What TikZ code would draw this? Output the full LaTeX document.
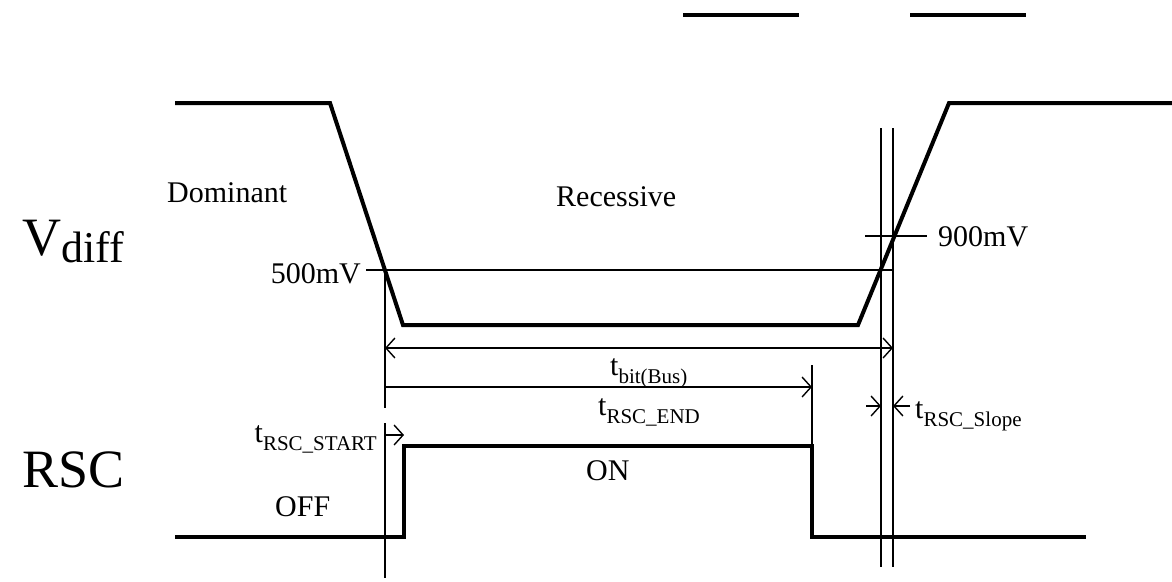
\documentclass[tikz,border=0pt]{standalone}
\usepackage{fontspec}
\setmainfont{Liberation Serif}
\usetikzlibrary{arrows.meta}

\newcommand{\tlabel}[2]{#1\raisebox{-0.28em}{\fontsize{21}{21}\selectfont #2}}

\begin{document}
\begin{tikzpicture}[x=1pt,y=-1pt,
        >={Straight Barb[length=9pt,width=20pt]},
        wave/.style={line width=4pt},
        guide/.style={line width=1.4pt},
        txt/.style={font=\fontsize{30}{32}\selectfont, inner sep=0pt},
        big/.style={font=\fontsize{54}{56}\selectfont, inner sep=0pt}]
        \useasboundingbox (0,0) rectangle (1172,581);

        % Points Vdiff
        \coordinate (V0) at (175,103);
        \coordinate (V1) at (330,103);
        \coordinate (V2) at (403,325);
        \coordinate (V3) at (858,325);
        \coordinate (V4) at (949,103);
        \coordinate (V5) at (1172,103);

        % Points RSC
        \coordinate (R0) at (175,537);
        \coordinate (R1) at (404,537);
        \coordinate (R2) at (404,446);
        \coordinate (R3) at (812,446);
        \coordinate (R4) at (812,537);
        \coordinate (R5) at (1086,537);

        % Bars on top
        \draw[wave] (683,15) -- (799,15);
        \draw[wave] (910,15) -- (1026,15);

        % Signals
        \draw[wave] (V0) -- (V1) -- (V2) -- (V3) -- (V4) -- (V5);
        \draw[wave] (R0) -- (R1) -- (R2) -- (R3) -- (R4) -- (R5);

        % Thresholds
        \coordinate (T5a) at (366,270);
        \coordinate (T5b) at (893,270);
        \coordinate (T9a) at (865,236);
        \coordinate (T9b) at (927,236);
        \draw[guide] (T5a) -- (T5b);
        \draw[guide] (T9a) -- (T9b);

        % Guide lines
        \draw[guide] (385,270) -- (385,408);
        \draw[guide] (385,423) -- (385,578);
        \draw[guide] (881,128) -- (881,567);
        \draw[guide] (893,128) -- (893,567);
        \draw[guide] (812,365) -- (R3);

        % Times
        \draw[guide,<->] (385,348) -- (893,348);
        \draw[guide,->] (385,387) -- (812,387);
        \draw[guide,->] (385,435) -- (404,435);
        \draw[guide,->] (866,406) -- (881,406);
        \draw[guide,->] (910,406) -- (893,406);

        % Labels
        \node[big, anchor=base west] (vdiff) at (22,255) {V\raisebox{-0.13em}{\fontsize{44}{44}\selectfont diff}};
        \node[big, anchor=base west] (rsc) at (22,487) {RSC};
        \node[txt, anchor=base west] (dom) at (167,202) {Dominant};
        \node[txt, anchor=base west] (rec) at (556,206) {Recessive};
        \node[txt, anchor=base east] (v500) at (361,283) {500mV};
        \node[txt, anchor=base west] (v900) at (938,246) {900mV};
        \node[txt, anchor=base west] (tbit) at (610,375) {\tlabel{t}{bit(Bus)}};
        \node[txt, anchor=base west] (tend) at (598,415) {\tlabel{t}{RSC\_END}};
        \node[txt, anchor=base east] (tstart) at (377,442) {\tlabel{t}{RSC\_START}};
        \node[txt, anchor=base west] (tslope) at (915,418) {\tlabel{t}{RSC\_Slope}};
        \node[txt, anchor=base west] (on) at (586,480) {ON};
        \node[txt, anchor=base west] (off) at (275,516) {OFF};
      \end{tikzpicture}
\end{document}
